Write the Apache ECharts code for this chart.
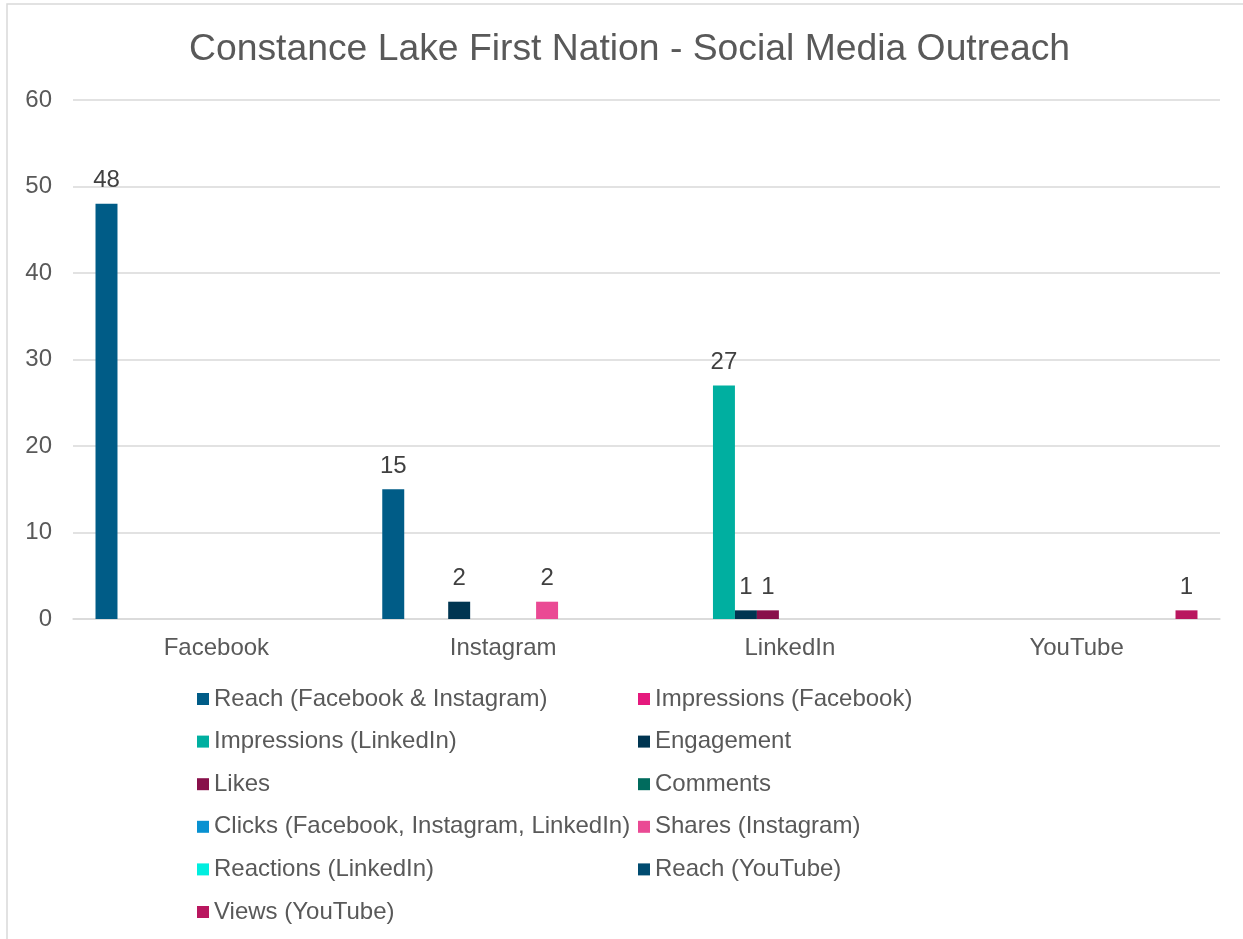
<!DOCTYPE html>
<html>
<head>
<meta charset="utf-8">
<script src="https://cdn.jsdelivr.net/npm/echarts@6/dist/echarts.min.js"></script>
<style>
html,body{margin:0;padding:0;background:#fff;}
#c{width:1243px;height:939px;}
</style>
</head>
<body>
<div id="c"></div>
<script>
const categories = ['Facebook', 'Instagram', 'LinkedIn', 'YouTube'];
const seriesNames = [
  'Reach (Facebook & Instagram)',
  'Impressions (Facebook)',
  'Impressions (LinkedIn)',
  'Engagement',
  'Likes',
  'Comments',
  'Clicks (Facebook, Instagram, LinkedIn)',
  'Shares (Instagram)',
  'Reactions (LinkedIn)',
  'Reach (YouTube)',
  'Views (YouTube)'
];
const reachFbIg = [48, 15, null, null];
const impressionsFb = [null, null, null, null];
const impressionsLinkedIn = [null, null, 27, null];
const engagement = [null, 2, 1, null];
const likes = [null, null, 1, null];
const comments = [null, null, null, null];
const clicks = [null, null, null, null];
const sharesInstagram = [null, 2, null, null];
const reactionsLinkedIn = [null, null, null, null];
const reachYouTube = [null, null, null, null];
const viewsYouTube = [null, null, null, 1];
const yTicks = {min: 0, max: 60, interval: 10};

const seriesData = [reachFbIg, impressionsFb, impressionsLinkedIn, engagement, likes, comments, clicks, sharesInstagram, reactionsLinkedIn, reachYouTube, viewsYouTube];
const colors = ['#005C87', '#E5197D', '#00AFA0', '#003551', '#88104A', '#006B5D', '#0891D1', '#EA4A94', '#00EEDF', '#004B70', '#B9175F'];

const font = 'Liberation Sans, Arial, sans-serif';
const chart = echarts.init(document.getElementById('c'), null, {renderer: 'canvas'});

const legendCommon = {
  orient: 'vertical',
  top: 687,
  padding: 0,
  itemWidth: 12,
  itemHeight: 12,
  itemGap: 18.6,
  icon: 'rect',
  textStyle: {fontFamily: font, fontSize: 24, color: '#595959', lineHeight: 24},
  selectedMode: false
};

chart.setOption({
  animation: false,
  color: colors,
  title: {
    text: 'Constance Lake First Nation - Social Media Outreach',
    left: 184,
    top: 26,
    textStyle: {fontFamily: font, fontSize: 37.3, fontWeight: 'normal', color: '#595959'}
  },
  graphic: [{
    type: 'rect',
    shape: {x: 7, y: 4, width: 1250, height: 960},
    style: {fill: 'none', stroke: '#D9D9D9', lineWidth: 1.5},
    silent: true,
    z: -1
  }],
  legend: [
    Object.assign({}, legendCommon, {left: 197, data: [seriesNames[0], seriesNames[2], seriesNames[4], seriesNames[6], seriesNames[8], seriesNames[10]]}),
    Object.assign({}, legendCommon, {left: 638, data: [seriesNames[1], seriesNames[3], seriesNames[5], seriesNames[7], seriesNames[9]]})
  ],
  grid: {left: 73, right: 23, top: 100, bottom: 320, containLabel: false},
  xAxis: {
    type: 'category',
    data: categories,
    axisLine: {show: true, lineStyle: {color: '#D9D9D9', width: 1.5}},
    axisTick: {show: false},
    axisLabel: {fontFamily: font, fontSize: 24, color: '#595959', margin: 17}
  },
  yAxis: {
    type: 'value',
    min: yTicks.min,
    max: yTicks.max,
    interval: yTicks.interval,
    axisLine: {show: false},
    axisTick: {show: false},
    splitLine: {lineStyle: {color: '#D9D9D9', width: 1.5}},
    axisLabel: {fontFamily: font, fontSize: 24, color: '#595959', margin: 21}
  },
  series: seriesNames.map((name, i) => ({
    name: name,
    type: 'bar',
    data: seriesData[i],
    barGap: '0%',
    barCategoryGap: '15.7%',
    itemStyle: {color: colors[i]},
    label: {
      show: true,
      position: 'top',
      distance: 11,
      fontFamily: font,
      fontSize: 24,
      color: '#404040'
    }
  }))
});
</script>
</body>
</html>
